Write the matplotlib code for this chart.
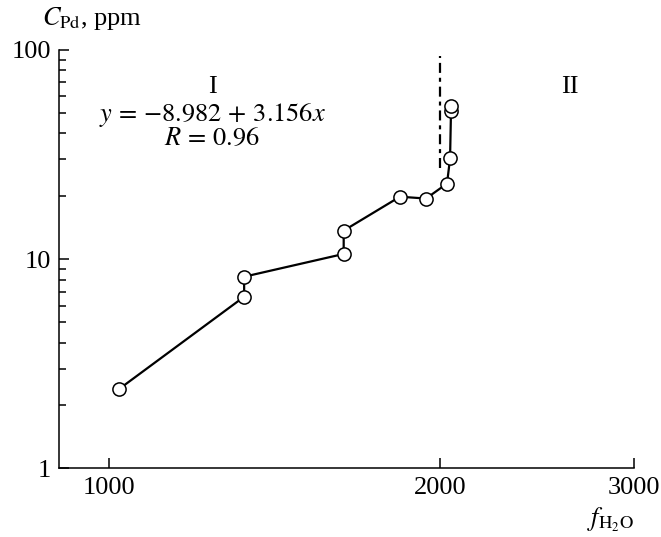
import numpy as np
import matplotlib
matplotlib.use("Agg")
import matplotlib.pyplot as plt
from matplotlib.ticker import FixedLocator, NullFormatter, LogLocator

plt.rcParams['font.family'] = ['Liberation Serif', 'DejaVu Serif']
plt.rcParams['mathtext.fontset'] = 'stix'

# data
f_h2o = [1022, 1327, 1327, 1634, 1634, 1838, 1941, 2028, 2041, 2045, 2045]
c_pd = [2.40, 6.62, 8.25, 10.6, 13.7, 19.9, 19.5, 23.0, 30.3, 51.3, 53.7]
border_x = [2000, 2000]
border_y = [27.4, 94]
x_ticks = [1000, 2000, 3000]
y_ticks = [1, 10, 100]

fs = 19
fig = plt.figure(figsize=(6.61, 5.37), dpi=100)
ax = fig.add_axes([0.090, 0.1276, 0.8696, 0.7793])

ax.plot(f_h2o, c_pd, color='black', lw=1.6, marker='o', ms=9.5,
        mfc='white', mec='black', mew=1.1, zorder=3)
ax.plot(border_x, border_y, color='black', lw=1.6, dashes=(4.5, 2.2, 1.8, 2.2))

ax.set_xscale('log')
ax.set_yscale('log')
ax.set_xlim(902, 3000)
ax.set_ylim(1, 100)

ax.xaxis.set_major_locator(FixedLocator(x_ticks))
ax.xaxis.set_minor_locator(FixedLocator([]))
ax.set_xticklabels([str(v) for v in x_ticks])
ax.yaxis.set_major_locator(FixedLocator(y_ticks))
ax.yaxis.set_minor_locator(LogLocator(base=10, subs=np.arange(2, 10)))
ax.yaxis.set_minor_formatter(NullFormatter())
ax.set_yticklabels([str(v) for v in y_ticks])

for s in ['top', 'right']:
    ax.spines[s].set_visible(False)
for s in ['left', 'bottom']:
    ax.spines[s].set_linewidth(1.1)

ax.tick_params(which='major', direction='in', length=7.5, width=1.1, labelsize=fs, pad=6)
ax.tick_params(which='minor', direction='in', length=5, width=1.1)

ax.text(1241, 66.2, 'I', fontsize=fs, ha='center', va='center')
ax.text(2623, 66.5, 'II', fontsize=fs, ha='center', va='center')
ax.text(1241, 49.1, r'$y\,=\,{-}8.982\,+\,3.156x$', fontsize=fs, ha='center', va='center')
ax.text(1241, 37.7, r'$R\,=\,0.96$', fontsize=fs, ha='center', va='center')

fig.text(42 / 661, 1 - 18 / 537, r'$C_{\rm Pd}$, ppm', fontsize=fs, ha='left', va='center')
fig.text(634 / 661, 1 - 520 / 537, r'$f_{\rm H_2O}$', fontsize=fs, ha='right', va='center')

fig.savefig('out.png', dpi=100)
